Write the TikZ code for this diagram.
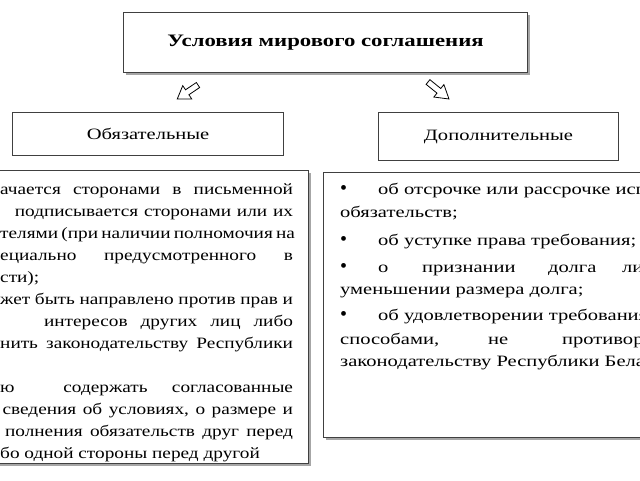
\documentclass[tikz,border=0pt]{standalone}
\usepackage{fontspec}
\usepackage{graphicx}
\setmainfont{Liberation Serif}
\newcommand{\sx}[1]{\scalebox{1.3}[1]{#1}}
\newcommand{\sxl}[1]{\scalebox{1.22}[1]{#1}}
\begin{document}
\begin{tikzpicture}[x=1pt,y=-1pt,
  box/.style={draw=black!75,line width=1.1pt,fill=white},
  shad/.style={fill=black!35,draw=none},
  txt/.style={inner sep=0pt,anchor=base west,font=\fontsize{15.8}{18}\selectfont},
  harrow/.style={draw=black,line width=0.8pt,fill=white}]
\useasboundingbox (0,0) rectangle (640,480);
\clip (0,0) rectangle (640,480);
% title
\fill[shad] (126,15) rectangle (530,75);
\node[box,minimum width=404pt,minimum height=60pt,anchor=north west,inner sep=0pt,
  font=\bfseries\fontsize{17.5}{20}\selectfont] (title) at (123,12) {\sx{Условия мирового соглашения}};
% arrows
\begin{scope}[shift={(198,85)},rotate=-146]
\draw[harrow] (0,-3)--(13,-3)--(13,-8)--(25,0)--(13,8)--(13,3)--(0,3)--cycle;
\end{scope}
\begin{scope}[shift={(428,82)},rotate=-39]
\draw[harrow] (0,-3)--(14,-3)--(14,-8)--(27,0)--(14,8)--(14,3)--(0,3)--cycle;
\end{scope}
% category boxes
\node[box,minimum width=271pt,minimum height=43pt,anchor=north west,inner sep=0pt,
  font=\fontsize{15.8}{18}\selectfont] (obl) at (12,112) {\sx{Обязательные}};
\node[box,minimum width=240pt,minimum height=48pt,anchor=north west,inner sep=0pt,
  font=\fontsize{15.8}{18}\selectfont] (dop) at (378,112) {\sx{Дополнительные}};
% big boxes
\fill[shad] (-5,173) rectangle (311,466);
\node[box,minimum width=313pt,minimum height=293pt,anchor=north west,inner sep=0pt] (lbox) at (-5,170) {};
\fill[shad] (326,175) rectangle (650,440);
\node[box,minimum width=330pt,minimum height=265pt,anchor=north west,inner sep=0pt] (rbox) at (323,172) {};
% left text
\newcommand{\jl}[2]{\node[txt] at (0,#1) {\sxl{\makebox[240pt][s]{#2}}};}
\jl{194}{ачается\hfill сторонами\hfill в\hfill письменной}
\jl{216}{\hspace{12pt}подписывается\hfill сторонами\hfill или\hfill их}
\jl{238}{телями (при наличии полномочия на}
\jl{260}{ециально\hfill предусмотренного\hfill в}
\node[txt] at (0,282) {\sxl{сти);}};
\jl{304}{жет\hfill быть\hfill направлено\hfill против\hfill прав\hfill и}
\jl{326}{\hspace{36pt}интересов\hfill других\hfill лиц\hfill либо}
\jl{348}{нить\hfill законодательству\hfill Республики}
\jl{392}{ю\hspace{40pt}содержать\hfill согласованные}
\jl{414}{\hspace{2pt}сведения\hfill об\hfill условиях,\hfill о\hfill размере\hfill и}
\jl{436}{\hspace{4pt}полнения\hfill обязательств\hfill друг\hfill перед}
\node[txt] at (0,458) {\sxl{бо одной стороны перед другой}};
% right text
\newcommand{\bul}[1]{\node[txt,font=\fontsize{20}{20}\selectfont] at (340,#1) {•};}
\bul{194}\node[txt] at (378,194) {\sx{об отсрочке или рассрочке исполнения}};
\node[txt] at (340,217) {\sx{обязательств;}};
\bul{245}\node[txt] at (378,245) {\sx{об уступке права требования;}};
\bul{272}\node[txt] at (378,272) {\sx{о}};
\node[txt] at (422,272) {\sx{признании}};
\node[txt] at (548,272) {\sx{долга}};
\node[txt] at (622,272) {\sx{либо}};
\node[txt] at (340,294) {\sx{уменьшении размера долга;}};
\bul{320}\node[txt] at (378,320) {\sx{об удовлетворении требования}};
\node[txt] at (340,344) {\sx{способами,}};
\node[txt] at (488,344) {\sx{не}};
\node[txt] at (562,344) {\sx{противоречащими}};
\node[txt] at (340,366) {\sx{законодательству Республики Беларусь}};
\end{tikzpicture}
\end{document}
